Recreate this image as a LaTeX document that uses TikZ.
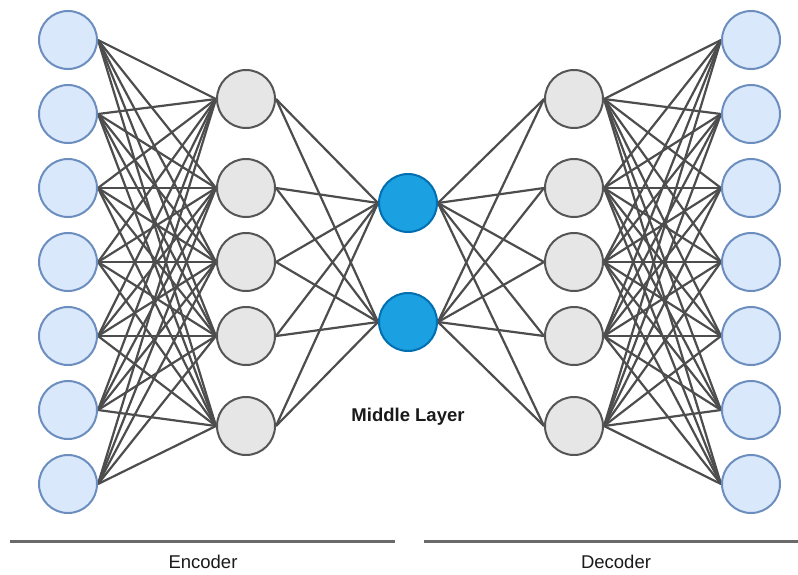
\documentclass[tikz,border=0pt]{standalone}
\usepackage{fontspec}
\setmainfont{Liberation Sans}
\usetikzlibrary{backgrounds}
\definecolor{inFill}{HTML}{DAE8FC}
\definecolor{inLine}{HTML}{6C8EBF}
\definecolor{hidFill}{HTML}{E6E6E6}
\definecolor{hidLine}{HTML}{555555}
\definecolor{midFill}{HTML}{1BA1E2}
\definecolor{midLine}{HTML}{006EAF}
\definecolor{wire}{HTML}{4D4D4D}
\definecolor{rule}{HTML}{6A6A6A}
\definecolor{ink}{HTML}{1A1A1A}
\begin{document}
\begin{tikzpicture}[x=1pt,y=-1pt,
  neuron/.style={circle,minimum size=58pt,inner sep=0pt,line width=2pt},
  inneuron/.style={neuron,fill=inFill,draw=inLine},
  hidneuron/.style={neuron,fill=hidFill,draw=hidLine},
  midneuron/.style={neuron,fill=midFill,draw=midLine},
  wire/.style={draw=wire,line width=2.2pt},
  sectionrule/.style={draw=rule,line width=3pt},
  caption/.style={text=ink,font=\fontsize{18.5}{22}\selectfont,inner sep=0pt}]
\useasboundingbox (0,0) rectangle (798,574);

% input and output layers
\foreach \i/\y in {1/40,2/114,3/188,4/262,5/336,6/410,7/484}{
  \node[inneuron] (in\i) at (68,\y) {};
  \node[inneuron] (out\i) at (751,\y) {};
}
% encoder and decoder hidden layers
\foreach \j/\y in {1/99,2/188,3/262,4/336,5/426}{
  \node[hidneuron] (eh\j) at (246,\y) {};
  \node[hidneuron] (dh\j) at (574,\y) {};
}
% bottleneck
\node[midneuron] (m1) at (408,203) {};
\node[midneuron] (m2) at (408,322) {};

% fully connected layers, kept behind the neurons
\begin{scope}[on background layer]
\foreach \i in {1,...,7}{
  \foreach \j in {1,...,5}{
    \draw[wire] (in\i.east) -- (eh\j.west);
    \draw[wire] (dh\j.east) -- (out\i.west);
  }
}
\foreach \j in {1,...,5}{
  \foreach \k in {1,2}{
    \draw[wire] (eh\j.east) -- (m\k.west);
    \draw[wire] (m\k.east) -- (dh\j.west);
  }
}
\end{scope}

\node[caption,font=\fontsize{18.5}{22}\selectfont\bfseries] (midlabel) at (408,417) {Middle Layer};

% section rules and captions
\coordinate (encA) at (10,541);
\coordinate (encB) at (395,541);
\coordinate (decA) at (424,541);
\coordinate (decB) at (798,541);
\draw[sectionrule] (encA) -- (encB);
\draw[sectionrule] (decA) -- (decB);
\node[caption] (enc) at (203,562) {Encoder};
\node[caption] (dec) at (616,562) {Decoder};
\end{tikzpicture}
\end{document}
